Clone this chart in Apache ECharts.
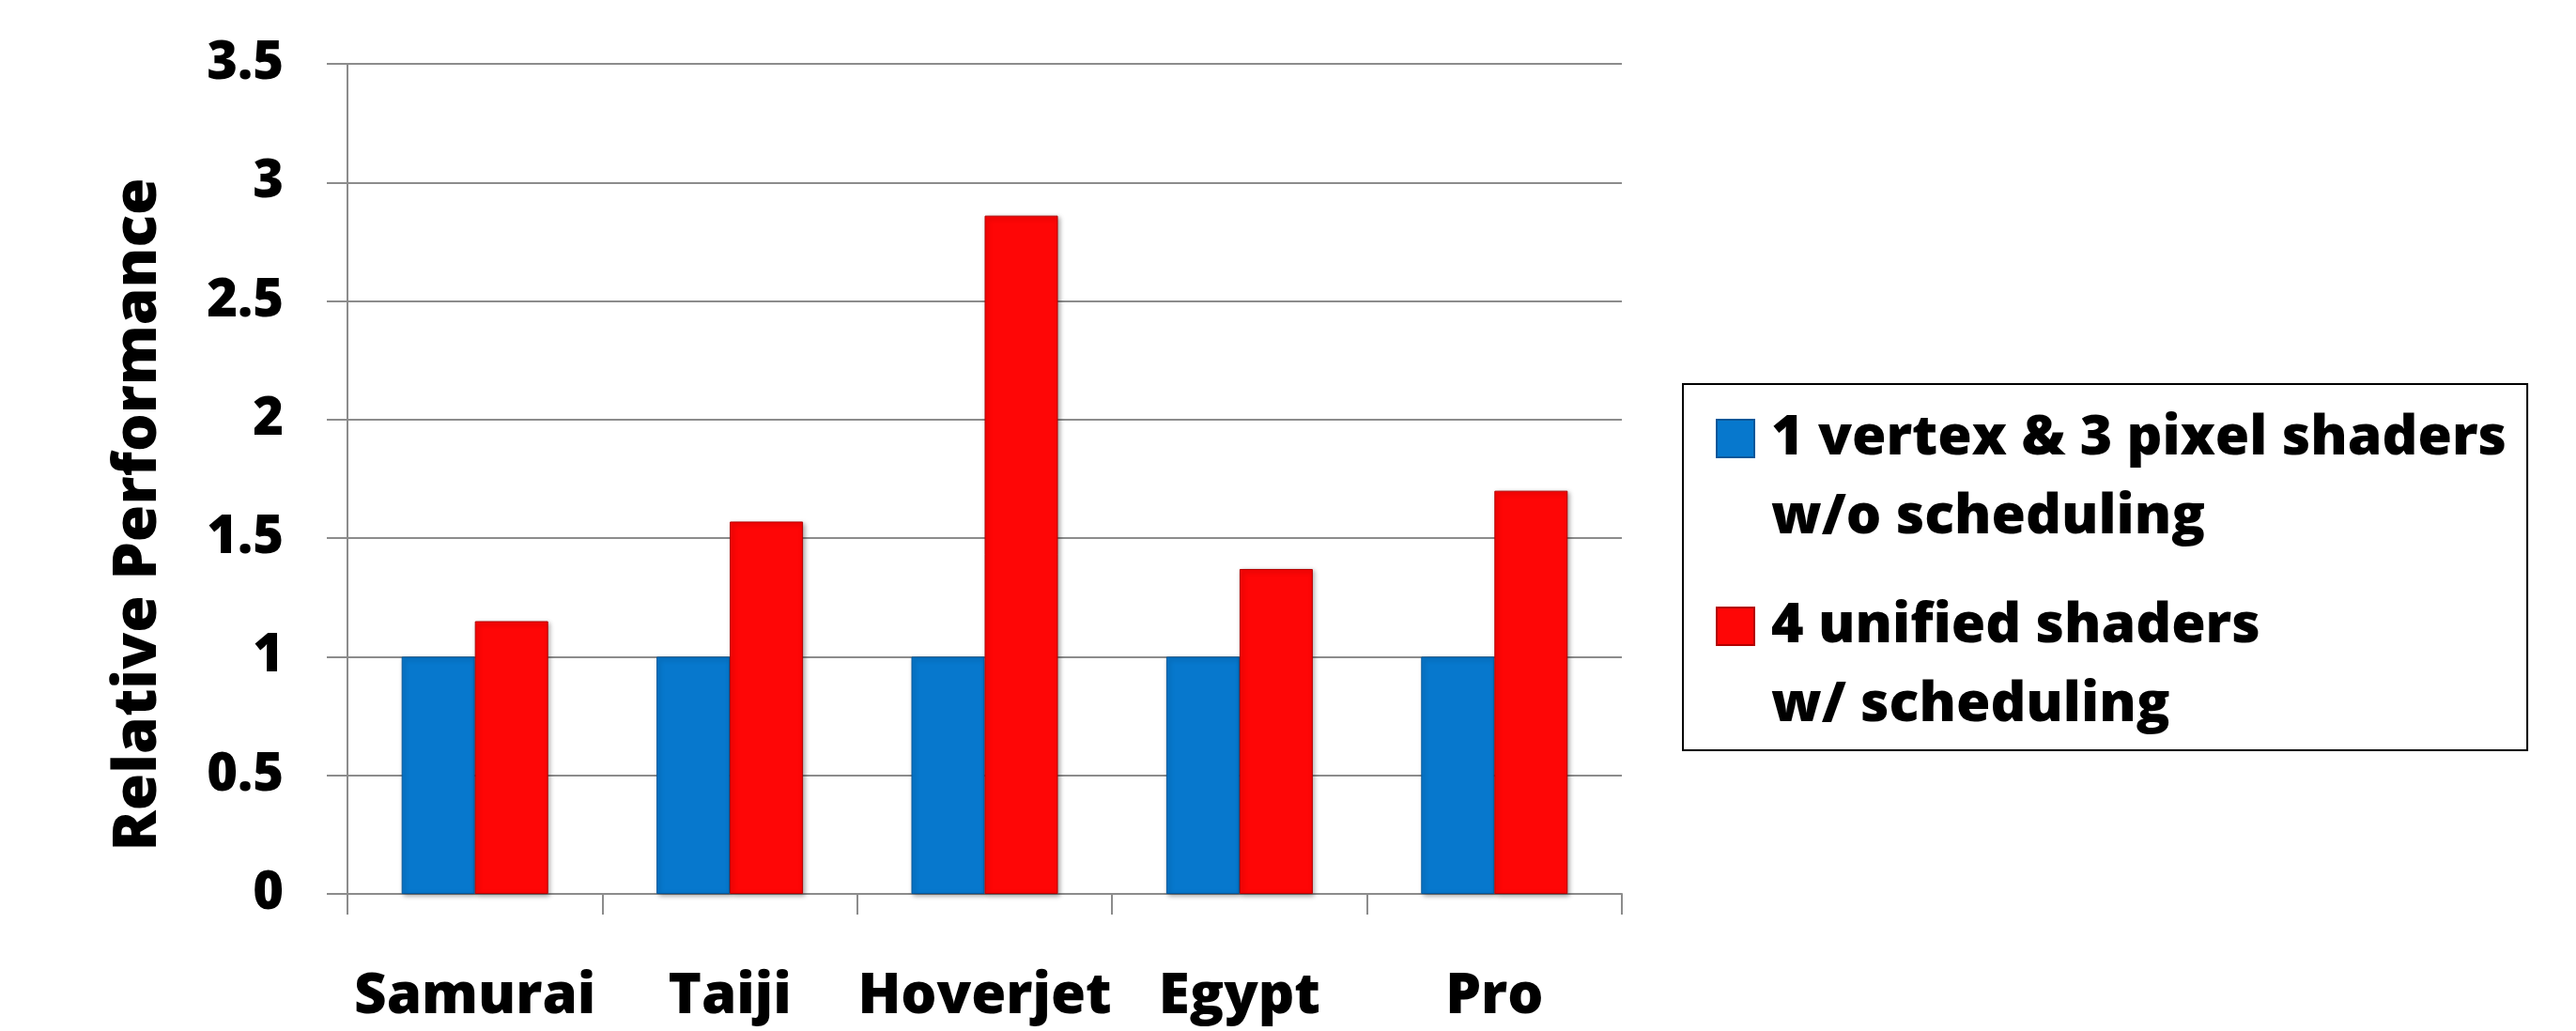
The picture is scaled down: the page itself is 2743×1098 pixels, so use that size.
<!DOCTYPE html>
<html>
<head>
<meta charset="utf-8">
<script src="https://cdn.jsdelivr.net/npm/echarts@6/dist/echarts.min.js"></script>
<style>
  html, body { margin: 0; padding: 0; background: #fff; }
  #chart { width: 2743px; height: 1098px; }
</style>
</head>
<body>
<div id="chart"></div>
<script>
// Benchmarks on the category axis
const categories = ['Samurai', 'Taiji', 'Hoverjet', 'Egypt', 'Pro'];
// Relative performance for each configuration
const separateShaders = [1, 1, 1, 1, 1];
const unifiedShaders = [1.15, 1.57, 2.86, 1.37, 1.70];
// Legend labels (two lines each)
const seriesNames = [
  '1 vertex & 3 pixel shaders\nw/o scheduling',
  '4 unified shaders\nw/ scheduling'
];
const yAxisTitle = 'Relative Performance';

const FONT = '"Open Sans", "Noto Sans", sans-serif';
const GRID_GRAY = '#8c8c8c';

// Legend icon: a square sitting on the first text line of a two-line entry
const legendIcon = 'path://M0,22h40v40h-40z M0,0L0,0 M0,168L0,168';

const chart = echarts.init(document.getElementById('chart'));
chart.setOption({
  backgroundColor: '#ffffff',
  animation: false,
  grid: { left: 370, right: 1016, top: 68, bottom: 146 },
  legend: {
    orient: 'vertical',
    left: 1792,
    top: 409,
    padding: [15, 22, 5, 35],
    borderColor: '#000',
    borderWidth: 2,
    itemWidth: 40,
    itemHeight: 168,
    itemGap: 30,
    icon: legendIcon,
    textStyle: {
      fontFamily: FONT,
      fontWeight: 800,
      fontSize: 59,
      lineHeight: 84,
      color: '#000',
      padding: [0, 0, 0, 13]
    },
    data: seriesNames
  },
  xAxis: {
    type: 'category',
    data: categories,
    axisLine: { lineStyle: { color: GRID_GRAY, width: 2 } },
    axisTick: { show: true, interval: 0, length: 22, lineStyle: { color: GRID_GRAY, width: 2 } },
    axisLabel: {
      interval: 0,
      margin: 80,
      fontFamily: FONT,
      fontWeight: 800,
      fontSize: 60,
      color: '#000'
    }
  },
  yAxis: {
    type: 'value',
    min: 0,
    max: 3.5,
    interval: 0.5,
    name: yAxisTitle,
    nameLocation: 'middle',
    nameGap: 190,
    nameTextStyle: {
      fontFamily: FONT,
      fontWeight: 800,
      fontSize: 64,
      color: '#000',
      padding: [0, 76, 0, 0]
    },
    axisLine: { show: true, lineStyle: { color: GRID_GRAY, width: 2 } },
    axisTick: { show: true, length: 22, lineStyle: { color: GRID_GRAY, width: 2 } },
    splitLine: { lineStyle: { color: GRID_GRAY, width: 2 } },
    axisLabel: {
      margin: 68,
      fontFamily: FONT,
      fontWeight: 800,
      fontSize: 56,
      color: '#000'
    }
  },
  series: [
    {
      name: seriesNames[0],
      type: 'bar',
      data: separateShaders,
      barWidth: 78,
      barGap: '0%',
      itemStyle: {
        color: '#0778CD',
        borderColor: '#05579a',
        borderWidth: 1,
        shadowColor: 'rgba(0,0,0,0.35)',
        shadowBlur: 5,
        shadowOffsetX: 2,
        shadowOffsetY: 2
      }
    },
    {
      name: seriesNames[1],
      type: 'bar',
      data: unifiedShaders,
      barWidth: 78,
      barGap: '0%',
      itemStyle: {
        color: '#FE0606',
        borderColor: '#b30000',
        borderWidth: 1,
        shadowColor: 'rgba(0,0,0,0.35)',
        shadowBlur: 5,
        shadowOffsetX: 2,
        shadowOffsetY: 2
      }
    }
  ]
});
</script>
</body>
</html>
